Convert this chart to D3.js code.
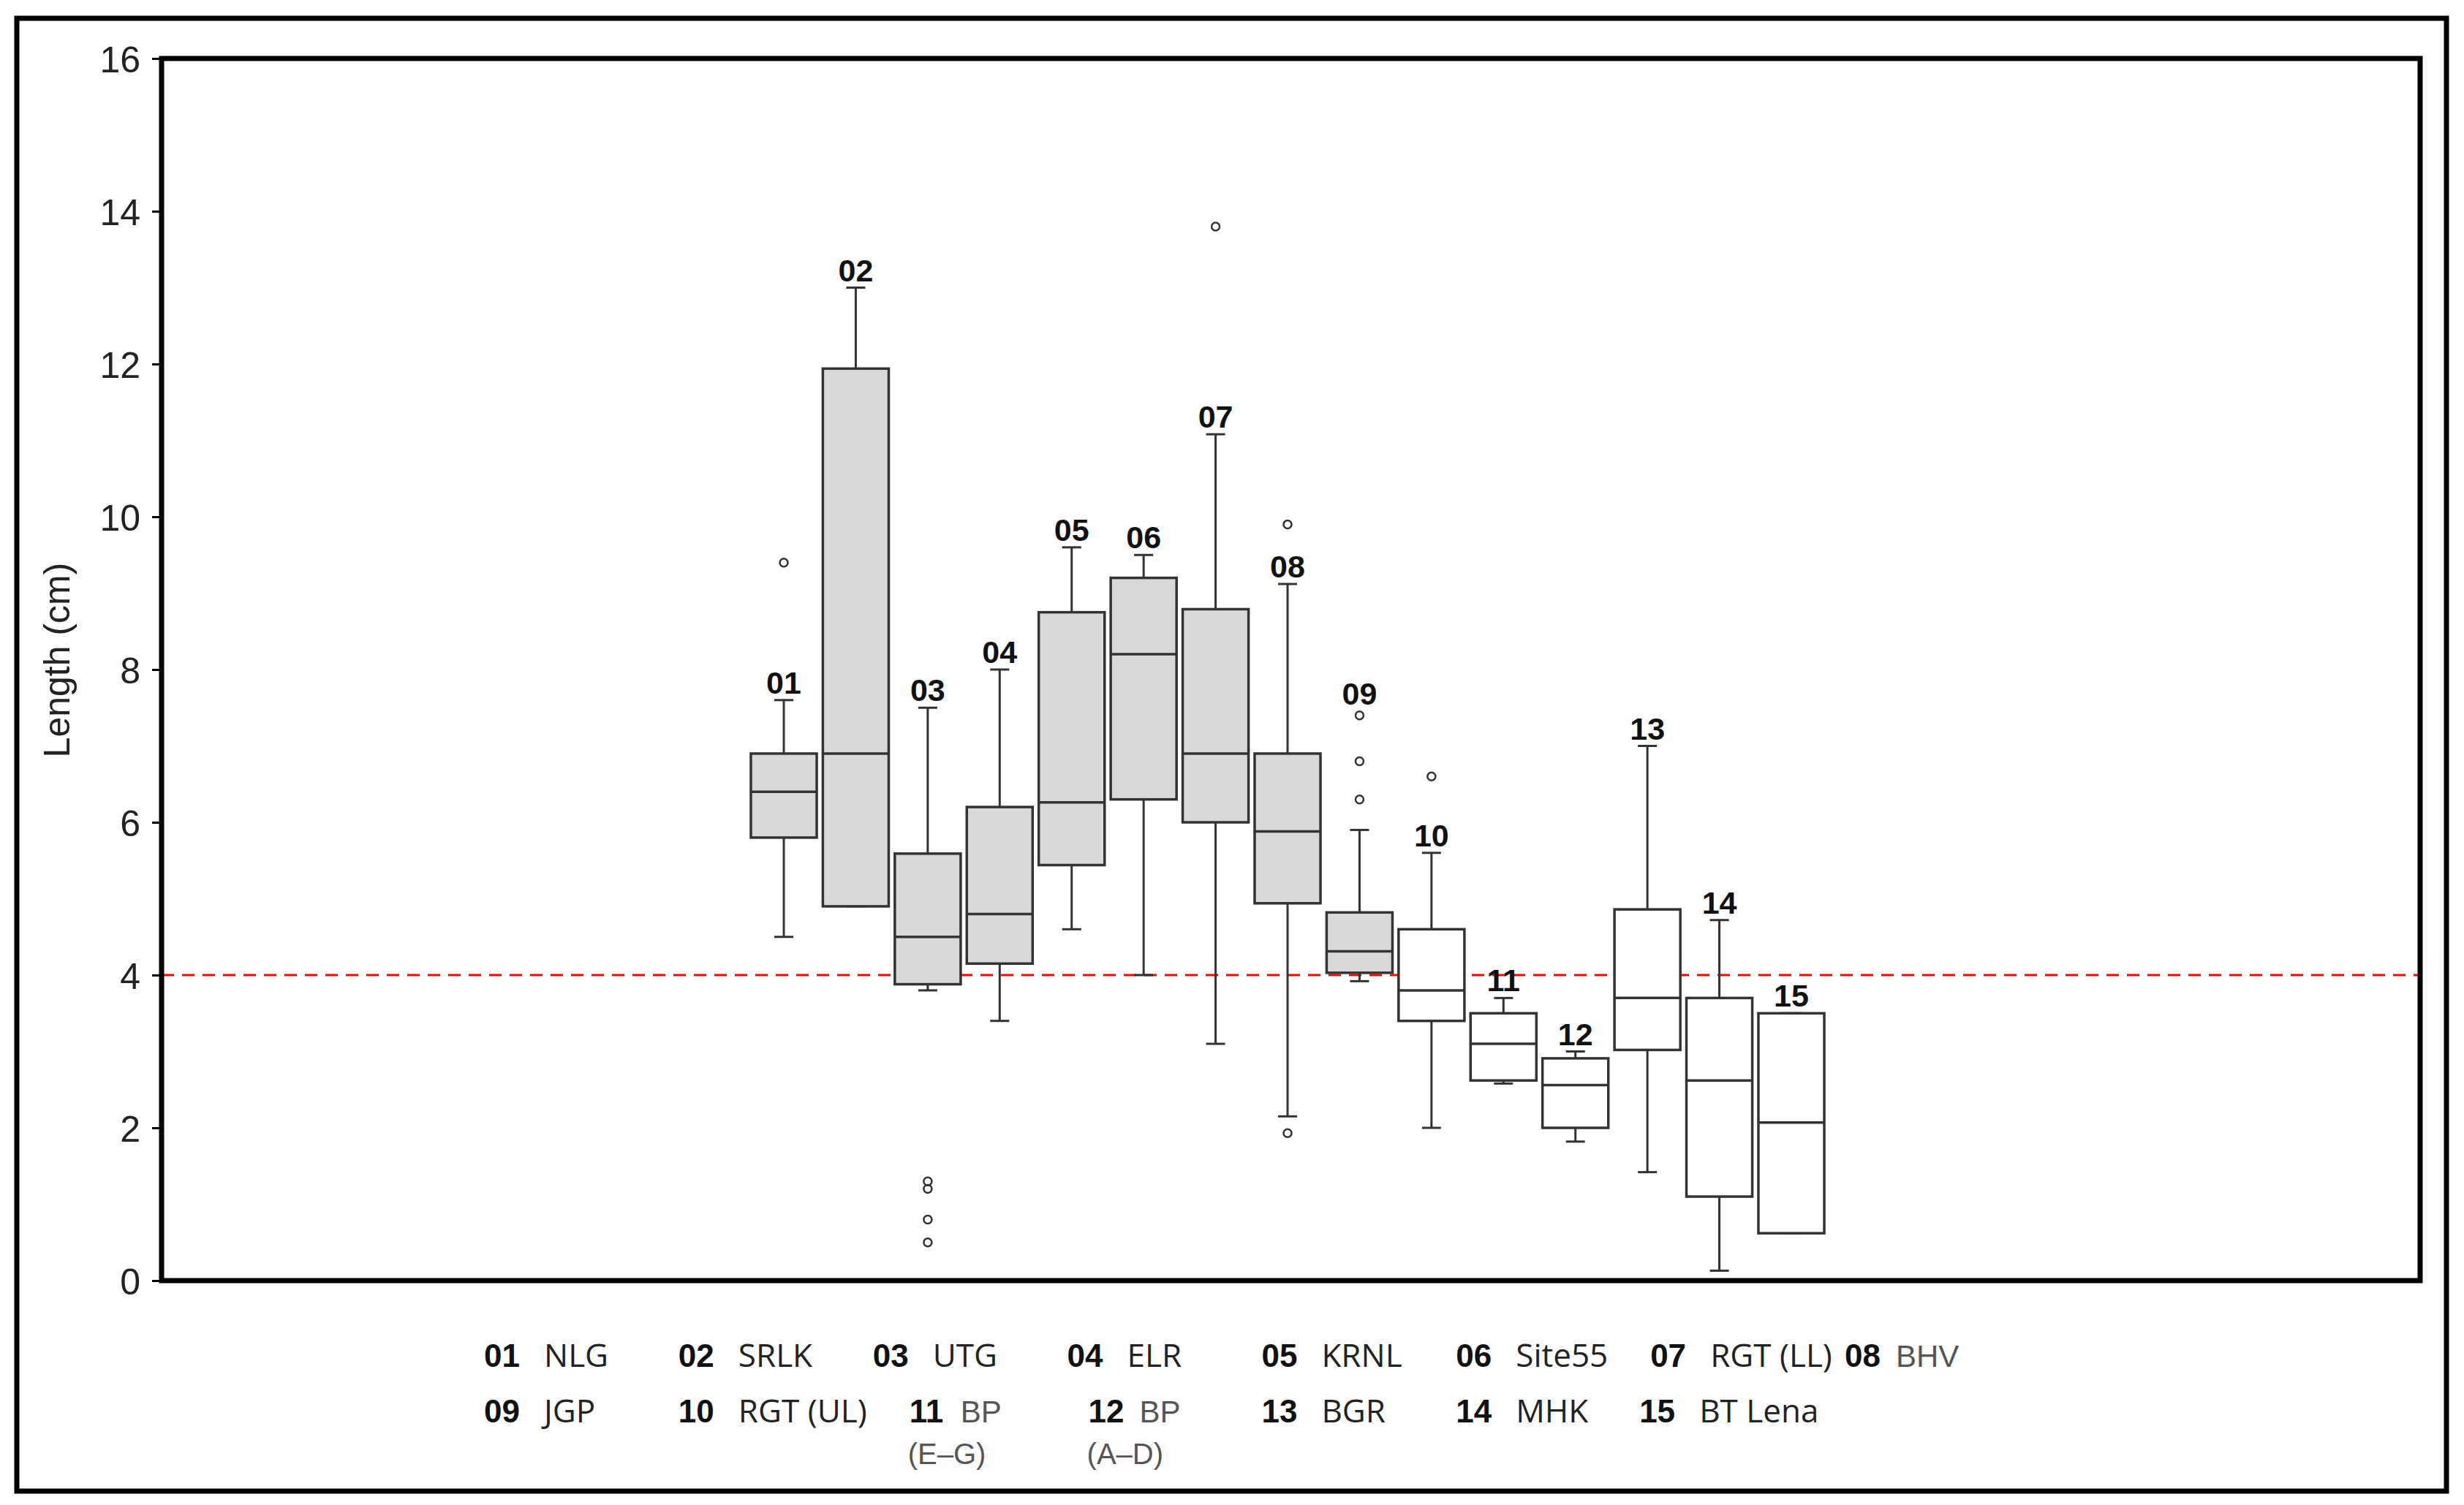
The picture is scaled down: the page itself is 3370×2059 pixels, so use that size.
<!DOCTYPE html>
<html>
<head>
<meta charset="utf-8">
<script src="https://cdn.jsdelivr.net/npm/d3@7"></script>
<style>
  body { margin: 0; background: #fff; }
</style>
</head>
<body>
<script>
(function() {

	// data
	var codes = ["01","02","03","04","05","06","07","08","09","10","11","12","13","14","15"];
	var names = ["NLG","SRLK","UTG","ELR","KRNL","Site55","RGT (LL)","BHV","JGP","RGT (UL)","BP","BP","BGR","MHK","BT Lena"];
	var subNames = ["","","","","","","","","","","(E\u2013G)","(A\u2013D)","","",""];
	var whiskerLow  = [4.5, 4.9, 3.8, 3.4, 4.6, 4.0, 3.1, 2.15, 3.92, 2.0, 2.58, 1.82, 1.42, 0.13, 0.62];
	var q1          = [5.8, 4.9, 3.88, 4.15, 5.44, 6.3, 6.0, 4.94, 4.03, 3.4, 2.62, 2.0, 3.02, 1.1, 0.62];
	var medians     = [6.4, 6.9, 4.5, 4.8, 6.26, 8.2, 6.9, 5.88, 4.31, 3.8, 3.1, 2.56, 3.7, 2.62, 2.07];
	var q3          = [6.9, 11.94, 5.59, 6.2, 8.75, 9.2, 8.79, 6.9, 4.82, 4.6, 3.5, 2.91, 4.86, 3.7, 3.5];
	var whiskerHigh = [7.6, 13.0, 7.5, 8.0, 9.6, 9.5, 11.08, 9.12, 5.9, 5.6, 3.7, 3.0, 7.0, 4.72, 3.5];
	var outliers = [[9.4], [], [1.3, 1.2, 0.8, 0.5], [], [], [], [13.8], [9.9, 1.93], [7.4, 6.8, 6.3], [6.6], [], [], [], [], []];
	var yTicks = [0, 2, 4, 6, 8, 10, 12, 14, 16];
	var threshold = 4;

	var width = 3370,
		height = 2059;

	// plot area
	var left = 221, right = 3310, top = 80, bottom = 1752;

	// colors
	var boxStroke = "#333",
		shadedFill = "#d9d9d9",
		plainFill = "#ffffff",
		frameColor = "#000";

	var svg = d3.select("body").append("svg")
		.attr("width", width)
		.attr("height", height);

	svg.append("rect")
		.attr("width", width).attr("height", height)
		.attr("fill", "#fff");

	// outer frame
	svg.append("rect")
		.attr("x", 23).attr("y", 25)
		.attr("width", 3323).attr("height", 2015)
		.attr("fill", "none")
		.attr("stroke", frameColor)
		.attr("stroke-width", 7);

	var y = d3.scaleLinear().domain([0, 16]).range([bottom, top]);

	var x = d3.scaleBand()
		.domain(codes)
		.range([1022.8, 2499.2])
		.paddingInner(0.085)
		.paddingOuter(0.0425);

	var boxes = codes.map(function(c, i) {
		return {code: c, lo: whiskerLow[i], q1: q1[i], med: medians[i], q3: q3[i], hi: whiskerHigh[i],
			out: outliers[i], shaded: i < 9};
	});

	// threshold line
	svg.append("line")
		.attr("x1", left).attr("x2", right + 2)
		.attr("y1", y(threshold)).attr("y2", y(threshold))
		.attr("stroke", "#ff0000")
		.attr("stroke-width", 3)
		.attr("stroke-dasharray", "17,11");

	var bw = x.bandwidth(),
		capW = 26;

	var g = svg.selectAll("g.box")
		.data(boxes)
		.enter().append("g")
		.attr("class", "box")
		.attr("transform", function(d) { return "translate(" + (x(d.code) + bw / 2) + ",0)"; });

	// whiskers
	g.append("line")
		.attr("x1", 0).attr("x2", 0)
		.attr("y1", function(d) { return y(d.hi); })
		.attr("y2", function(d) { return y(d.lo); })
		.attr("stroke", boxStroke).attr("stroke-width", 3);
	g.selectAll("line.cap")
		.data(function(d) { return [d.hi, d.lo]; })
		.enter().append("line")
		.attr("class", "cap")
		.attr("x1", -capW / 2).attr("x2", capW / 2)
		.attr("y1", function(v) { return y(v); })
		.attr("y2", function(v) { return y(v); })
		.attr("stroke", boxStroke).attr("stroke-width", 3);

	// box
	g.append("rect")
		.attr("x", -bw / 2)
		.attr("width", bw)
		.attr("y", function(d) { return y(d.q3); })
		.attr("height", function(d) { return y(d.q1) - y(d.q3); })
		.attr("fill", function(d) { return d.shaded ? shadedFill : plainFill; })
		.attr("stroke", boxStroke)
		.attr("stroke-width", 3.5);

	// median
	g.append("line")
		.attr("x1", -bw / 2).attr("x2", bw / 2)
		.attr("y1", function(d) { return y(d.med); })
		.attr("y2", function(d) { return y(d.med); })
		.attr("stroke", boxStroke).attr("stroke-width", 3.5);

	// outliers
	g.selectAll("circle")
		.data(function(d) { return d.out; })
		.enter().append("circle")
		.attr("cx", 0)
		.attr("cy", function(v) { return y(v); })
		.attr("r", 5.5)
		.attr("fill", "none")
		.attr("stroke", boxStroke)
		.attr("stroke-width", 2.5);

	// code labels above the boxes
	g.append("text")
		.attr("text-anchor", "middle")
		.attr("font-family", "'Liberation Sans', Arial, sans-serif")
		.attr("font-weight", "bold")
		.attr("font-size", 43)
		.attr("fill", "#111")
		.attr("y", function(d) {
			var up = d.out.filter(function(v) { return v > d.hi; });
			if (up.length && d3.min(up) - d.hi < 0.5) {
				return y(d3.max(up)) - 15;
			}
			return y(d.hi) - 9;
		})
		.text(function(d) { return d.code; });

	// y axis
	var axis = d3.axisLeft(y)
		.tickValues(yTicks)
		.tickSize(13)
		.tickPadding(16)
		.tickFormat(d3.format("d"));

	var ax = svg.append("g")
		.attr("transform", "translate(" + left + ",0)")
		.call(axis);
	ax.select(".domain").remove();
	ax.selectAll(".tick line").attr("stroke", "#000").attr("stroke-width", 3);
	ax.selectAll(".tick text")
		.attr("font-family", "'Liberation Sans', Arial, sans-serif")
		.attr("font-size", 50)
		.attr("fill", "#222")
		.attr("dy", "0.36em");

	// plot frame
	svg.append("rect")
		.attr("x", left).attr("y", top)
		.attr("width", right - left).attr("height", bottom - top)
		.attr("fill", "none")
		.attr("stroke", frameColor)
		.attr("stroke-width", 7);

	svg.append("text")
		.attr("transform", "translate(95,903) rotate(-90)")
		.attr("text-anchor", "middle")
		.attr("font-family", "'Liberation Sans', Arial, sans-serif")
		.attr("font-size", 50)
		.attr("fill", "#222")
		.text("Length (cm)");

	// legend
	var col = d3.scalePoint().domain(d3.range(8)).range([662, 2523]);
	var nudge = {"11": 50, "12": 29, "15": -15};
	var rowBase = [1870, 1946],
		subBase = 2003;

	var leg = svg.selectAll("g.leg")
		.data(codes.map(function(c, i) { return {code: c, name: names[i], sub: subNames[i], i: i}; }))
		.enter().append("g")
		.attr("class", "leg")
		.attr("transform", function(d) {
			var row = d.i < 8 ? 0 : 1;
			return "translate(" + (col(d.i % 8) + (nudge[d.code] || 0)) + "," + rowBase[row] + ")";
		});

	leg.append("text")
		.attr("font-family", "'Liberation Sans', Arial, sans-serif")
		.attr("font-weight", "bold")
		.attr("font-size", 44)
		.attr("fill", "#111")
		.text(function(d) { return d.code; });

	var grey = function(d) { return d.code == "08" || d.sub !== ""; };

	leg.append("text")
		.attr("x", function(d) { return grey(d) ? 70 : 82; })
		.attr("font-family", function(d) { return grey(d) ? "'Liberation Sans', Arial, sans-serif" : "'Open Sans', sans-serif"; })
		.attr("font-size", function(d) { return grey(d) ? 42 : 44; })
		.attr("fill", function(d) { return grey(d) ? "#555" : "#222"; })
		.text(function(d) { return d.name; });

	leg.append("text")
		.attr("x", -2)
		.attr("y", subBase - rowBase[1])
		.attr("font-family", "'Liberation Sans', Arial, sans-serif")
		.attr("font-size", 40)
		.attr("fill", "#555")
		.text(function(d) { return d.sub; });

})();
</script>
</body>
</html>
